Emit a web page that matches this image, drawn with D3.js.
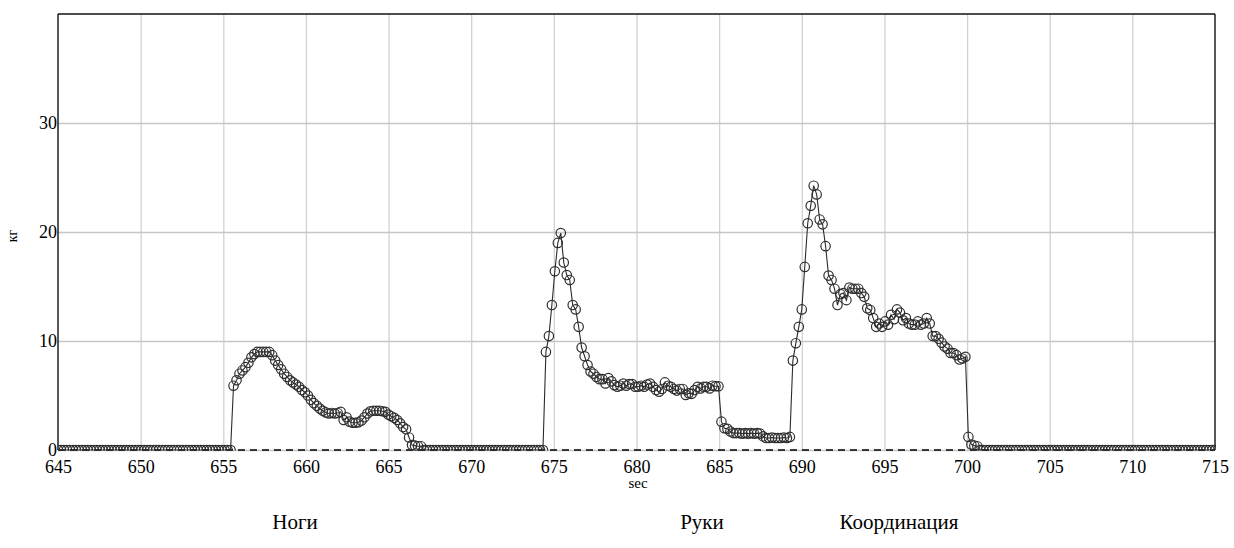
<!DOCTYPE html>
<html>
<head>
<meta charset="utf-8">
<script src="https://cdn.jsdelivr.net/npm/d3@7"></script>
<style>
  html, body { margin: 0; padding: 0; background: #fff; }
  svg { display: block; }
</style>
</head>
<body>
<svg id="chart" width="1234" height="548"></svg>
<script>
// ---- data ----
const startTime = 645;          // sec, first sample
const sampleStep = 0.18;        // sec between samples
const xTicks = [645, 650, 655, 660, 665, 670, 675, 680, 685, 690, 695, 700, 705, 710, 715];
const yTicks = [0, 10, 20, 30];
const xDomain = [645, 715];
const yDomain = [0, 40];
const xLabel = "sec";
const yLabel = "кг";
const phaseLabels = ["Ноги", "Руки", "Координация"];

// force (кг), one value per sample
const force = [
  // 645 .. 655.4
  0,0,0,0,0,0,0,0,0,0, 0,0,0,0,0,0,0,0,0,0,
  0,0,0,0,0,0,0,0,0,0, 0,0,0,0,0,0,0,0,0,0,
  0,0,0,0,0,0,0,0,0,0, 0,0,0,0,0,0,0,0,0,
  // Ноги
  5.9,6.4,7.0,7.3,7.6,8.0,8.5,8.8,9.0,9.0,
  9.0,9.0,9.0,8.7,8.2,7.8,7.4,7.0,6.7,6.4,
  6.2,6.0,5.8,5.5,5.3,5.0,4.6,4.3,4.05,3.8,
  3.6,3.45,3.35,3.4,3.35,3.4,3.5,2.75,3.0,2.6,
  2.5,2.5,2.55,2.7,3.0,3.35,3.55,3.6,3.6,3.6,
  3.55,3.5,3.25,3.1,2.95,2.75,2.45,2.1,1.9,1.15,
  0.45,0.4,0.35,0.35,
  // 667 .. 674.3
  0,0,0,0,0,0,0,0,0,0, 0,0,0,0,0,0,0,0,0,0,
  0,0,0,0,0,0,0,0,0,0, 0,0,0,0,0,0,0,0,0,0, 0,
  // Руки
  9.0,10.45,13.3,16.4,19.0,19.9,17.2,16.05,15.6,13.3,
  12.9,11.3,9.4,8.6,7.8,7.2,7.0,6.7,6.5,6.5,
  6.1,6.6,6.3,5.95,5.8,5.9,6.1,5.9,6.05,6.05,
  5.8,5.8,5.9,5.8,6.0,6.1,5.8,5.5,5.35,5.6,
  6.2,5.9,5.8,5.6,5.45,5.6,5.6,5.05,5.2,5.15,
  5.5,5.8,5.65,5.8,5.8,5.65,5.9,5.85,5.85,
  2.6,2.0,1.95,1.7,1.55,1.55,1.55,1.5,1.55,1.5,
  1.55,1.5,1.55,1.5,1.25,1.1,1.1,1.15,1.1,1.1,
  1.1,1.15,1.1,1.2,
  // Координация
  8.2,9.8,11.3,12.9,16.8,20.8,22.4,24.25,23.45,21.15,
  20.7,18.7,16.0,15.6,14.8,13.3,14.3,14.4,13.75,14.9,
  14.8,14.8,14.8,14.4,14.05,13.0,12.85,12.1,11.3,11.6,
  11.3,11.8,11.5,12.4,12.0,12.9,12.6,11.9,12.1,11.6,
  11.5,11.5,11.8,11.5,11.6,12.1,11.6,10.45,10.45,10.2,
  9.85,9.5,9.3,8.9,8.9,8.7,8.3,8.4,8.55,
  1.2,0.5,0.4,0.35,
  // 700.8 .. 715
  0,0,0,0,0,0,0,0,0,0, 0,0,0,0,0,0,0,0,0,0,
  0,0,0,0,0,0,0,0,0,0, 0,0,0,0,0,0,0,0,0,0,
  0,0,0,0,0,0,0,0,0,0, 0,0,0,0,0,0,0,0,0,0,
  0,0,0,0,0,0,0,0,0,0, 0,0,0,0,0,0,0,0,0,0
];
// zero reference line
const refLine = [{t: 645, v: 0}, {t: 715, v: 0}];

// ---- chart ----
const SERIF = "'Liberation Serif', 'Times New Roman', 'DejaVu Serif', serif";
const svg = d3.select("#chart");
const mLeft = 58, mRight = 1215, mTop = 14, mBottom = 450;

const x = d3.scaleLinear().domain(xDomain).range([mLeft, mRight]);
const y = d3.scaleLinear().domain(yDomain).range([mBottom, mTop]);

const data = force.map((v, i) => ({t: startTime + i * sampleStep, v}));

// grid
const grid = svg.append("g");
grid.append("g")
  .attr("transform", `translate(0,${mBottom})`)
  .call(d3.axisBottom(x).tickValues(xTicks.slice(1, -1)).tickSize(-(mBottom - mTop)).tickFormat(""))
  .call(g => g.select(".domain").remove())
  .call(g => g.selectAll("line").attr("stroke", "#d2d2d2").attr("stroke-width", 1.3));
grid.append("g")
  .attr("transform", `translate(${mLeft},0)`)
  .call(d3.axisLeft(y).tickValues(yTicks).tickSize(-(mRight - mLeft)).tickFormat(""))
  .call(g => g.select(".domain").remove())
  .call(g => g.selectAll("line").attr("stroke", "#c6c6c6").attr("stroke-width", 1.3));

// frame (top, left, right)
const frame = svg.append("g").attr("stroke", "#111").attr("fill", "none");
frame.append("line").attr("x1", x(xDomain[0])).attr("x2", x(xDomain[1])).attr("y1", y(yDomain[1])).attr("y2", y(yDomain[1])).attr("stroke-width", 1.6);
frame.append("line").attr("x1", x(xDomain[0])).attr("x2", x(xDomain[0])).attr("y1", y(yDomain[1])).attr("y2", y(0)).attr("stroke-width", 1.4);
frame.append("line").attr("x1", x(xDomain[1])).attr("x2", x(xDomain[1])).attr("y1", y(yDomain[1])).attr("y2", y(0)).attr("stroke-width", 1.4);

// clip
svg.append("clipPath").attr("id", "plotclip")
  .append("rect").attr("x", mLeft).attr("y", mTop).attr("width", mRight - mLeft + 1).attr("height", mBottom - mTop + 0.5);

// zero reference dashed line
svg.append("path")
  .datum(refLine)
  .attr("fill", "none")
  .attr("stroke", "#000")
  .attr("stroke-width", 1.5)
  .attr("stroke-dasharray", "7,5")
  .attr("d", d3.line().x(d => x(d.t)).y(d => y(d.v)));

const plot = svg.append("g").attr("clip-path", "url(#plotclip)");
plot.append("path")
  .datum(data)
  .attr("fill", "none")
  .attr("stroke", "#2b2b2b")
  .attr("stroke-width", 1.1)
  .attr("d", d3.line().x(d => x(d.t)).y(d => y(d.v)));

plot.append("g").selectAll("circle")
  .data(data)
  .join("circle")
  .attr("cx", d => x(d.t))
  .attr("cy", d => y(d.v))
  .attr("r", 4.7)
  .attr("fill", "none")
  .attr("stroke", "#2e2e2e")
  .attr("stroke-width", 1.2);

// axes labels
const xAxis = svg.append("g")
  .attr("transform", `translate(0,${mBottom})`)
  .call(d3.axisBottom(x).tickValues(xTicks).tickSize(0).tickPadding(10).tickFormat(d3.format("d")));
xAxis.attr("font-family", SERIF).attr("font-size", 18);
xAxis.select(".domain").remove();
xAxis.selectAll("text").attr("font-family", SERIF).attr("font-size", 18).attr("fill", "#000").attr("dy", "0.74em");

const yAxis = svg.append("g")
  .attr("transform", `translate(${mLeft},0)`)
  .call(d3.axisLeft(y).tickValues(yTicks).tickSize(0).tickPadding(1).tickFormat(d3.format("d")));
yAxis.attr("font-family", SERIF).attr("font-size", 18);
yAxis.select(".domain").remove();
yAxis.selectAll("text").attr("font-family", SERIF).attr("font-size", 18).attr("fill", "#000").attr("dy", "0.3em");

svg.append("text")
  .attr("x", 638).attr("y", 488)
  .attr("text-anchor", "middle")
  .attr("font-family", SERIF)
  .attr("font-size", 15)
  .text(xLabel);

svg.append("text")
  .attr("transform", `translate(17,${(mTop + mBottom) / 2 + 4}) rotate(-90)`)
  .attr("text-anchor", "middle")
  .attr("font-family", SERIF)
  .attr("font-size", 14)
  .text(yLabel);

const phaseX = [295, 702, 899];
svg.append("g").selectAll("text")
  .data(phaseLabels)
  .join("text")
  .attr("x", (d, i) => phaseX[i])
  .attr("y", 529)
  .attr("text-anchor", "middle")
  .attr("font-family", SERIF)
  .attr("font-size", 21)
  .text(d => d);
</script>
</body>
</html>
